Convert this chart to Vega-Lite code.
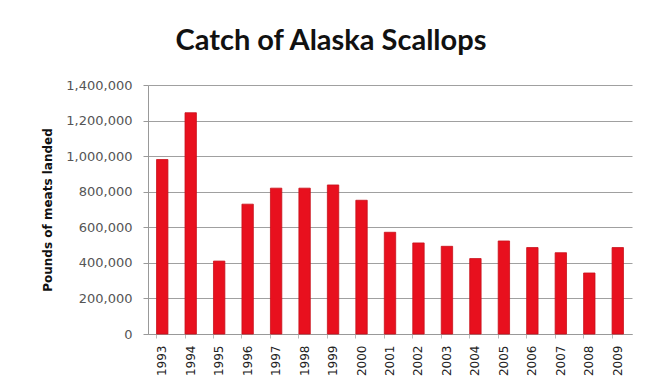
{
  "$schema": "https://vega.github.io/schema/vega-lite/v6.json",
  "width": 484,
  "height": 249,
  "autosize": "none",
  "padding": {"left": 148, "top": 85, "right": 23, "bottom": 51},
  "background": "white",
  "title": {
    "text": "Catch of Alaska Scallops",
    "font": "Lato",
    "fontSize": 29,
    "fontWeight": "bold",
    "color": "#111111",
    "anchor": "middle",
    "dx": -59,
    "offset": 23
  },
  "data": {
    "values": [
      {"year": "1993", "pounds": 981000},
      {"year": "1994", "pounds": 1244000},
      {"year": "1995", "pounds": 410000},
      {"year": "1996", "pounds": 730000},
      {"year": "1997", "pounds": 820000},
      {"year": "1998", "pounds": 820000},
      {"year": "1999", "pounds": 838000},
      {"year": "2000", "pounds": 752000},
      {"year": "2001", "pounds": 572000},
      {"year": "2002", "pounds": 512000},
      {"year": "2003", "pounds": 493000},
      {"year": "2004", "pounds": 424000},
      {"year": "2005", "pounds": 523000},
      {"year": "2006", "pounds": 486000},
      {"year": "2007", "pounds": 457000},
      {"year": "2008", "pounds": 343000},
      {"year": "2009", "pounds": 486000}
    ]
  },
  "mark": {"type": "bar", "color": "#e8101e", "stroke": "#c8101a", "strokeWidth": 0.8},
  "encoding": {
    "x": {
      "field": "year",
      "type": "ordinal",
      "scale": {"paddingInner": 0.6, "paddingOuter": 0.3},
      "axis": {
        "title": null,
        "labelAngle": -90,
        "labelFont": "DejaVu Sans",
        "labelFontSize": 12,
        "labelColor": "#222222",
        "labelPadding": 7,
        "domainColor": "#999999",
        "tickColor": "#bbbbbb",
        "tickSize": 4,
        "bandPosition": 0,
        "labelBound": false
      }
    },
    "y": {
      "field": "pounds",
      "type": "quantitative",
      "scale": {"domain": [0, 1400000], "nice": false},
      "axis": {
        "title": "Pounds of meats landed",
        "titleFont": "DejaVu Sans",
        "titleFontSize": 12,
        "titleFontWeight": "bold",
        "titleColor": "#111111",
        "titlePadding": 11,
        "values": [0, 200000, 400000, 600000, 800000, 1000000, 1200000, 1400000],
        "format": ",d",
        "labelFont": "DejaVu Sans",
        "labelFontSize": 13,
        "labelColor": "#555555",
        "labelPadding": 11,
        "domainColor": "#999999",
        "tickColor": "#999999",
        "tickSize": 5,
        "gridColor": "#a0a0a0",
        "gridWidth": 1
      }
    }
  },
  "config": {"view": {"stroke": null}}
}
